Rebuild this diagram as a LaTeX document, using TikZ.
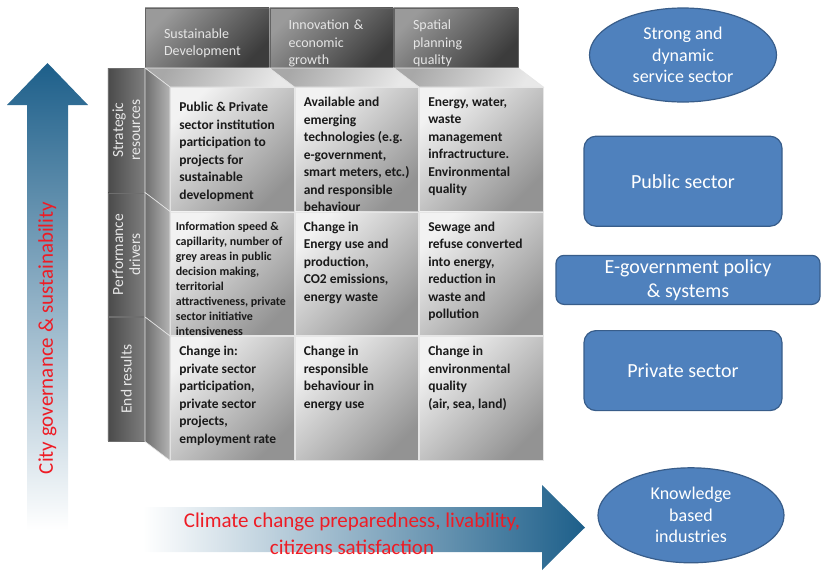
\documentclass[tikz,border=0pt]{standalone}
\usepackage{fontspec}
\setmainfont{Carlito}
\usetikzlibrary{positioning,shapes.geometric,calc}
\definecolor{cellLight}{HTML}{F2F2F2}
\definecolor{cellDark}{HTML}{939393}
\definecolor{cellLine}{HTML}{E6E6E6}
\definecolor{cellText}{HTML}{1A1A1A}
\definecolor{hdrLight}{HTML}{9A9A9A}
\definecolor{hdrDark}{HTML}{3C3C3C}
\definecolor{hdrText}{HTML}{E6E6E6}
\definecolor{rowLight}{HTML}{7E7E7E}
\definecolor{rowDark}{HTML}{4A4A4A}
\definecolor{faceLight}{HTML}{E8E8E8}
\definecolor{faceDark}{HTML}{A8A8A8}
\definecolor{sideLight}{HTML}{B4B4B4}
\definecolor{sideDark}{HTML}{6E6E6E}
\definecolor{blueFill}{HTML}{4F81BD}
\definecolor{blueStroke}{HTML}{385D8A}
\definecolor{arrowDark}{HTML}{1D5F8A}
\definecolor{arrowMid}{HTML}{7AAED6}
\definecolor{textRed}{HTML}{EE1C25}

\newcommand{\cellbox}[2][106pt]{\parbox[c][104pt][t]{#1}{\raggedright #2}}
\newcommand{\hdtop}{\rule{0pt}{21pt}}

\begin{document}
\begin{tikzpicture}[
  x=1pt, y=-1pt,
  font=\fontsize{14}{17}\selectfont,
  cell/.style    ={draw=cellLine, line width=0.8pt, top color=cellLight, bottom color=cellDark, shading angle=45, minimum width=123.7pt, minimum height=123.7pt, inner xsep=4pt, inner ysep=8pt, text=cellText, font=\bfseries\fontsize{13.5}{17.5}\selectfont},
  colhead/.style ={draw=hdrDark!80, top color=hdrLight, bottom color=hdrDark, shading angle=45, minimum width=123.7pt, minimum height=60pt, text width=86pt, inner xsep=18pt, inner ysep=0pt, align=left, text=hdrText, font=\fontsize{14}{17.5}\selectfont},
  rowhead/.style ={draw=rowDark!80, left color=rowDark, right color=rowLight, rotate=90, minimum width=123.7pt, minimum height=37pt, inner sep=0pt, align=center, text=hdrText, font=\fontsize{15.5}{17}\selectfont},
  topface/.style ={draw=cellLine, line width=0.6pt, top color=faceDark, bottom color=faceLight, shading angle=60},
  sideface/.style={draw=cellLine, line width=0.6pt, left color=sideDark, right color=sideLight},
  sector/.style  ={draw=blueStroke, fill=blueFill, line width=1.2pt, rounded corners=12pt, text=white, align=center},
  oval/.style    ={ellipse, draw=blueStroke, fill=blueFill, line width=1.2pt, text=white, align=center, inner sep=0pt, font=\fontsize{18}{21.5}\selectfont},
  redtext/.style ={text=textRed, align=center, font=\fontsize{21}{27}\selectfont},
]
\useasboundingbox (0,0) rectangle (823,574);

% ============ Arrows ============
\shade[top color=arrowDark, middle color=arrowMid, bottom color=white]
  (27,530) -- (27,105) -- (7,105) -- (47.5,63) -- (88,105) -- (68,105) -- (68,530) -- cycle;
\shade[left color=white, middle color=arrowMid, right color=arrowDark]
  (143,507) -- (542,507) -- (542,485) -- (585,527.5) -- (542,570) -- (542,552) -- (143,552) -- cycle;

\node[redtext, rotate=90] (gov) at (47.5,338) {City governance \& sustainability};
\node[redtext] (clim) at (352,534) {Climate change preparedness, livability,\\citizens satisfaction};

% ============ Cells ============
\node[cell, anchor=north west] (c11) at (170,87) {\cellbox{\vspace*{5pt}Public \& Private\\sector institution\\participation to\\projects for\\sustainable\\development}};
\node[cell, right=0pt of c11] (c12) {\cellbox{Available and\\emerging\\technologies (e.g.\\e-government,\\smart meters, etc.)\\and responsible\\behaviour}};
\node[cell, right=0pt of c12] (c13) {\cellbox{Energy, water,\\waste\\management\\infractructure.\\Environmental\\quality}};

\node[cell, below=0pt of c11] (c21) {\cellbox[113pt]{\fontsize{12}{15}\selectfont Information speed \&\\capillarity, number of\\grey areas in public\\decision making,\\territorial\\attractiveness, private\\sector initiative\\intensiveness}};
\node[cell, right=0pt of c21] (c22) {\cellbox{Change in\\Energy use and\\production,\\CO2 emissions,\\energy waste}};
\node[cell, right=0pt of c22] (c23) {\cellbox{Sewage and\\refuse converted\\into energy,\\reduction in\\waste and\\pollution}};

\node[cell, below=0pt of c21] (c31) {\cellbox{Change in:\\private sector\\participation,\\private sector\\projects,\\employment rate}};
\node[cell, right=0pt of c31] (c32) {\cellbox{Change in\\responsible\\behaviour in\\energy use}};
\node[cell, right=0pt of c32] (c33) {\cellbox{Change in\\environmental\\quality\\(air, sea, land)}};

% ============ Column and row headers ============
\node[colhead, anchor=south west] (h1) at ([shift={(-25,-19)}]c11.north west) {\hdtop Sustainable\\Development};
\node[colhead, anchor=south west] (h2) at ([shift={(-25,-19)}]c12.north west) {\hdtop Innovation \&\\economic\\growth};
\node[colhead, anchor=south west] (h3) at ([shift={(-25,-19)}]c13.north west) {\hdtop Spatial\\planning\\quality};

\node[rowhead, anchor=south east] (r1) at ([shift={(-25,-19)}]c11.north west) {Strategic\\resources};
\node[rowhead, anchor=south east] (r2) at ([shift={(-25,-19)}]c21.north west) {Performance\\drivers};
\node[rowhead, anchor=south east] (r3) at ([shift={(-25,-19)}]c31.north west) {End results};

% ============ Bevel faces ============
\foreach \c in {c11,c12,c13} {
  \shade[topface] (\c.north west) -- ++(-25,-19) -- ([shift={(-25,-19)}]\c.north east) -- (\c.north east) -- cycle;
}
\foreach \c in {c11,c21,c31} {
  \shade[sideface] (\c.north west) -- ++(-25,-19) -- ([shift={(-25,-19)}]\c.south west) -- (\c.south west) -- cycle;
}

% ============ Sectors ============
\node[oval, minimum width=187pt, minimum height=94pt] (svc) at (683,55) {Strong and\\dynamic\\service sector};
\node[sector, below=33pt of svc, minimum width=198pt, minimum height=90pt, font=\fontsize{20}{24}\selectfont] (pub) {Public sector};
\node[sector, below=28pt of pub, xshift=5pt, minimum width=264pt, minimum height=49pt, rounded corners=8pt, inner sep=0pt, font=\fontsize{20}{25}\selectfont] (egov) {E-government policy\\[-1pt]\& systems};
\node[sector, below=25pt of egov, xshift=-5pt, minimum width=198pt, minimum height=80pt, font=\fontsize{20}{24}\selectfont] (priv) {Private sector};
\node[oval, below=56pt of priv, xshift=8pt, minimum width=186pt, minimum height=95pt] (know) {Knowledge\\based\\industries};

\end{tikzpicture}
\end{document}
